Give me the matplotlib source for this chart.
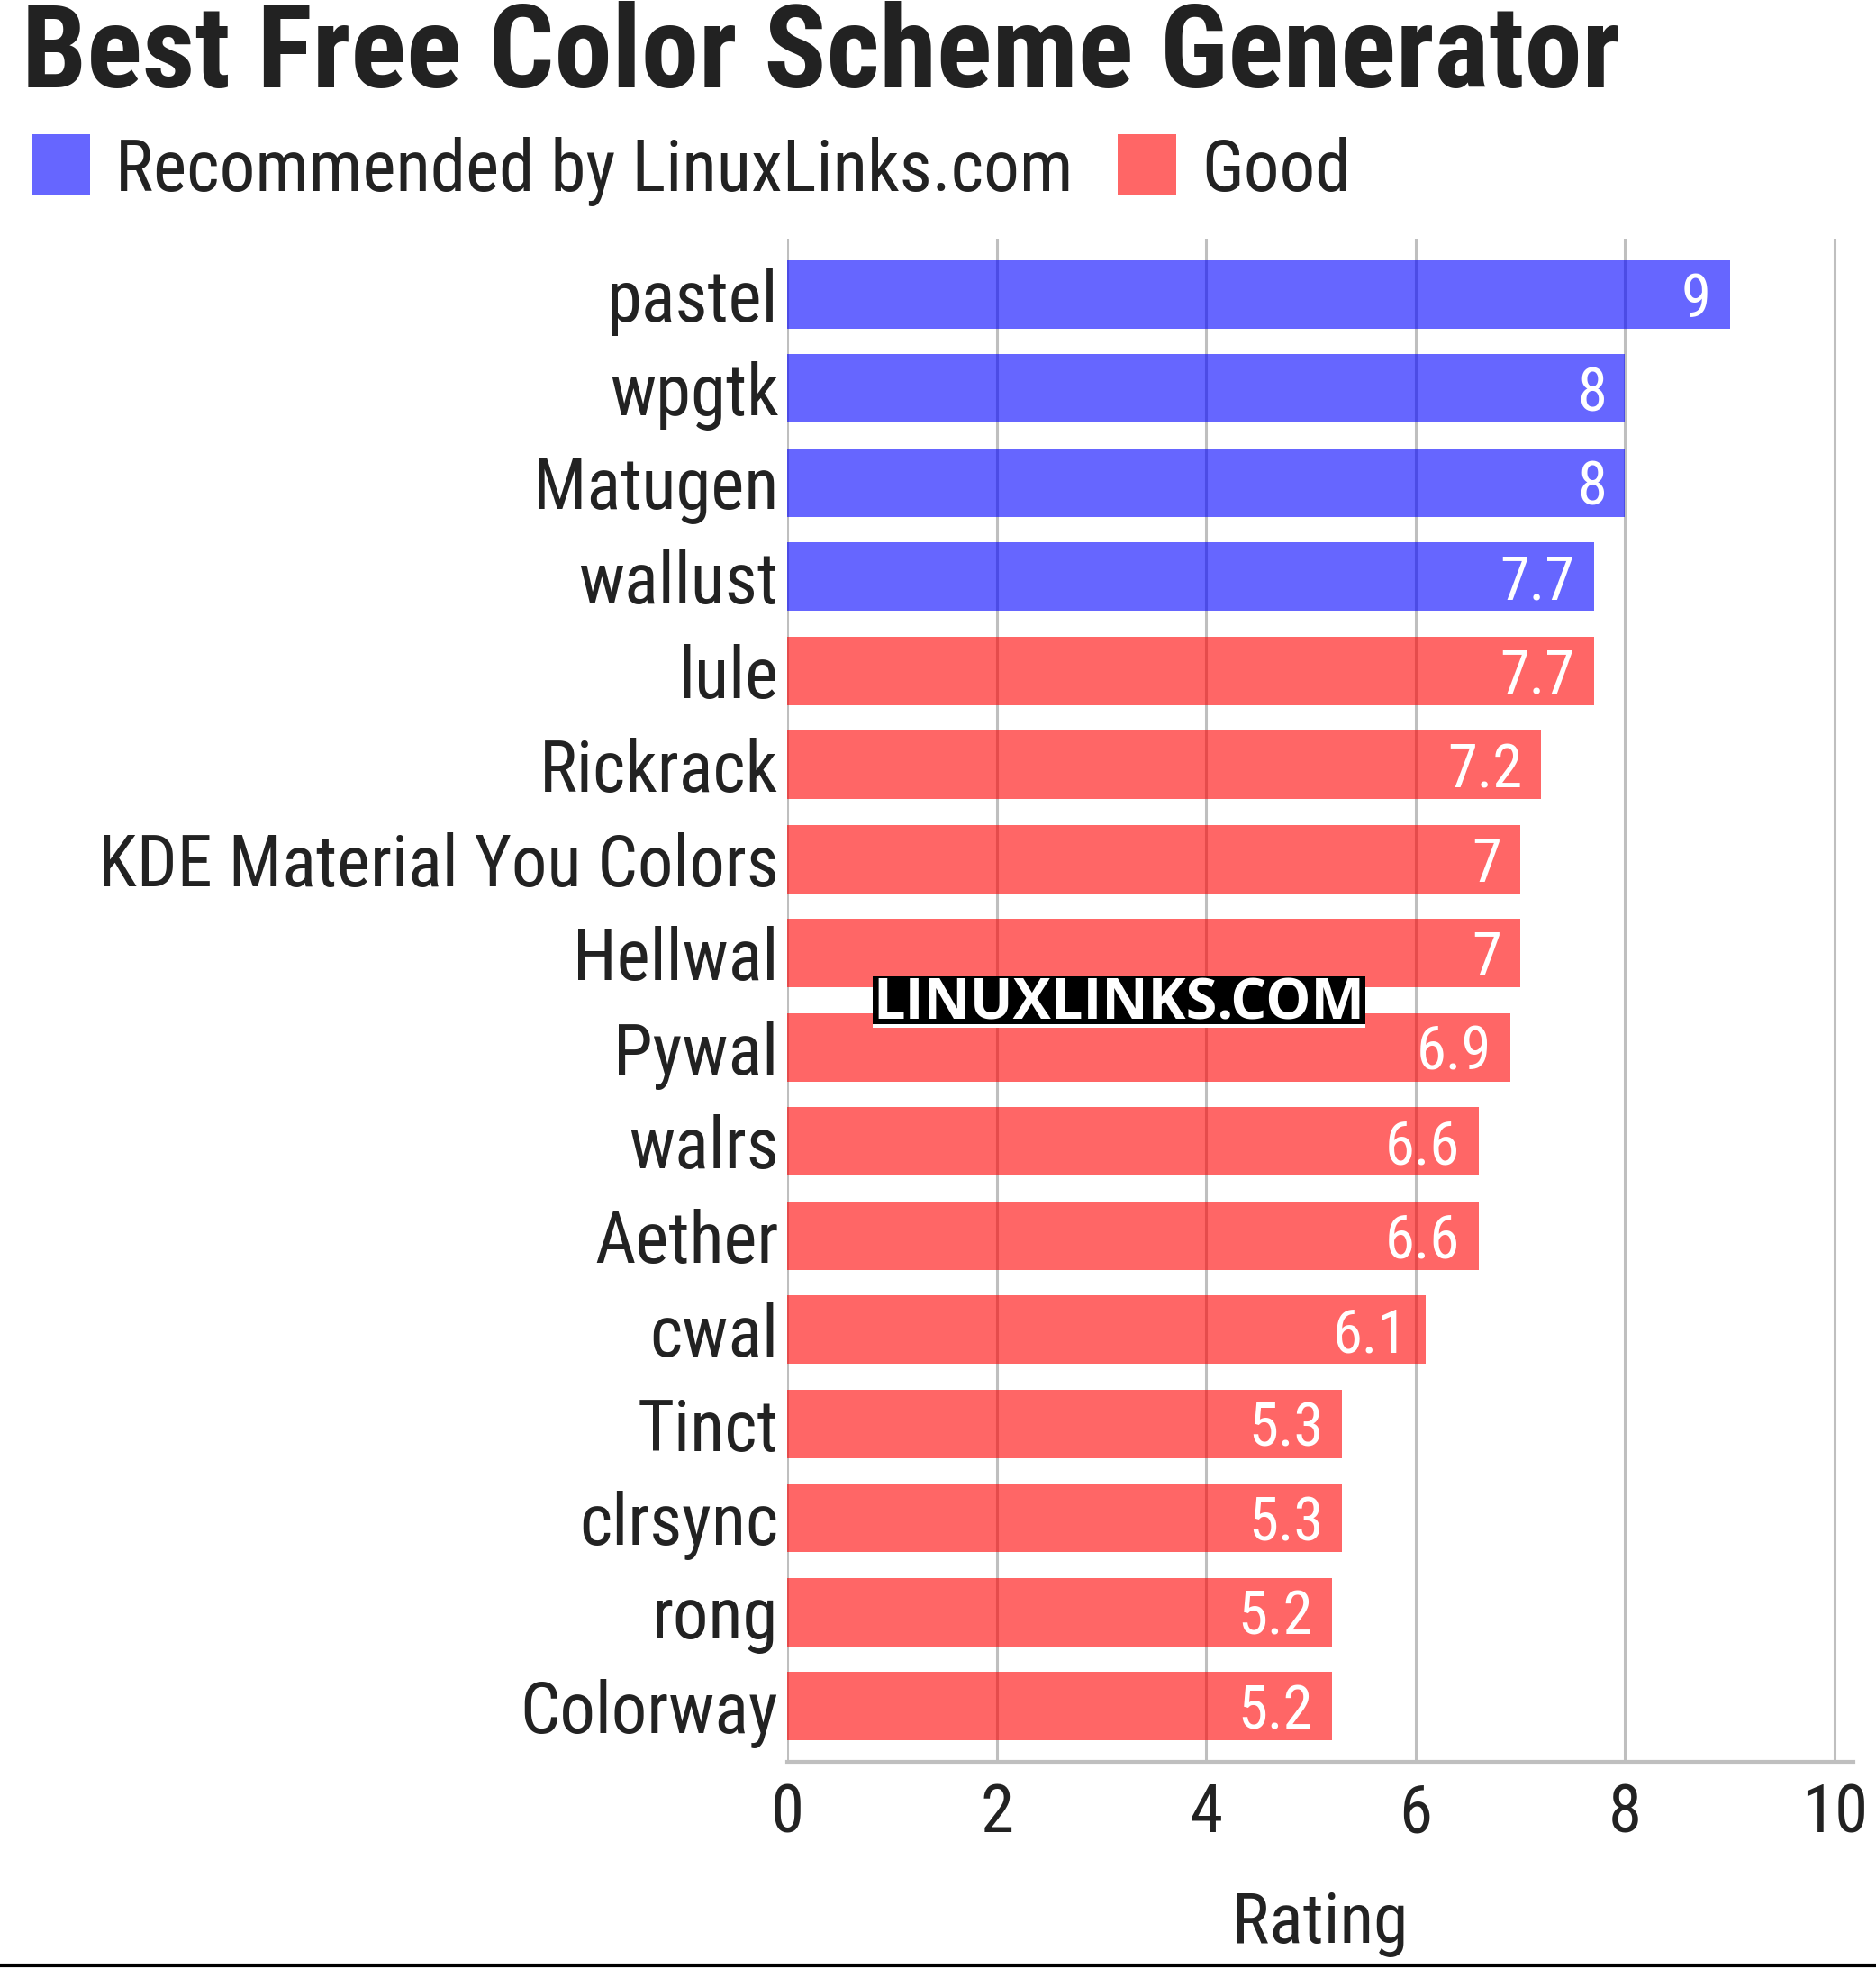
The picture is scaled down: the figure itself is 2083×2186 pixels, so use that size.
import matplotlib
matplotlib.use("Agg")
import matplotlib.pyplot as plt
from matplotlib import font_manager as fm
from matplotlib.patches import Rectangle
from matplotlib.lines import Line2D

# ---- data ----
tools = ["pastel", "wpgtk", "Matugen", "wallust", "lule", "Rickrack",
         "KDE Material You Colors", "Hellwal", "Pywal", "walrs", "Aether",
         "cwal", "Tinct", "clrsync", "rong", "Colorway"]
ratings = [9, 8, 8, 7.7, 7.7, 7.2, 7, 7, 6.9, 6.6, 6.6, 6.1, 5.3, 5.3, 5.2, 5.2]
groups = ["Recommended by LinuxLinks.com"] * 4 + ["Good"] * 12
group_names = ["Recommended by LinuxLinks.com", "Good"]
group_colors = {"Recommended by LinuxLinks.com": (0, 0, 1, 0.6), "Good": (1, 0, 0, 0.6)}
xticks = [0, 2, 4, 6, 8, 10]
title = "Best Free Color Scheme Generator"
xlabel = "Rating"
watermark = "LINUXLINKS.COM"

# ---- fonts ----
def font_file(name):
    for f in fm.fontManager.ttflist:
        if f.fname.endswith(name):
            return f.fname
    return None

def fprop(fname, family, weight, size):
    path = font_file(fname)
    if path:
        return fm.FontProperties(fname=path, size=size)
    return fm.FontProperties(family=family, weight=weight, size=size)

TXT = "#222222"
W, H = 2083, 2186
fig = plt.figure(figsize=(W / 100, H / 100), dpi=100)

ax_left, ax_right = 874 / W, 2058 / W
ax_bottom, ax_top = 1 - 1956 / H, 1 - 265 / H
ax = fig.add_axes([ax_left, ax_bottom, ax_right - ax_left, ax_top - ax_bottom])

ypos = list(range(len(tools)))
colors = [group_colors[g] for g in groups]
bars = ax.barh(ypos, ratings, height=0.73, color=colors, zorder=3, linewidth=0)

ax.set_xlim(0, 10.18)
ax.set_ylim(len(tools) - 1 + 0.59, -0.59)
ax.set_xticks(xticks)
ax.set_xticklabels([str(t) for t in xticks])
ax.set_yticks(ypos)
ax.set_yticklabels(tools)

tick_fp = fprop("RobotoCondensed-Regular.ttf", "Roboto Condensed", "normal", 56.6)
xt_fp = fprop("RobotoCondensed-Regular.ttf", "Roboto Condensed", "normal", 54)
for lab in ax.get_yticklabels():
    lab.set_fontproperties(tick_fp)
    lab.set_color(TXT)
for lab in ax.get_xticklabels():
    lab.set_fontproperties(xt_fp)
    lab.set_color(TXT)
ax.tick_params(axis="y", length=0, pad=7)
ax.tick_params(axis="x", length=0, pad=16)

ax.grid(axis="x", color="#bfbfbf", linewidth=2.2, zorder=1)
ax.grid(axis="y", visible=False)
ax.set_axisbelow(True)
for s in ["top", "right", "left"]:
    ax.spines[s].set_visible(False)
ax.spines["bottom"].set_color("#bfbfbf")
ax.spines["bottom"].set_linewidth(3)
ax.spines["bottom"].set_zorder(4)

lab_fp = fprop("RobotoCondensed-Regular.ttf", "Roboto Condensed", "normal", 56)
ax.set_xlabel(xlabel, fontproperties=lab_fp, color=TXT)
ax.xaxis.set_label_coords(0.5, -0.084)
ax.xaxis.label.set_va("top")

# value labels
val_fp = fprop("RobotoCondensed-Regular.ttf", "Roboto Condensed", "normal", 48)
for rect, v in zip(bars, ratings):
    ax.annotate(f"{v:g}", xy=(rect.get_width(), rect.get_y() + rect.get_height() / 2),
                xytext=(-15, 0), textcoords="offset points", ha="right", va="center_baseline",
                color="white", fontproperties=val_fp, zorder=5)

# title
title_fp = fprop("RobotoCondensed-Bold.ttf", "Roboto Condensed", "bold", 92.5)
fig.text(24 / W, 1 - 97 / H, title, fontproperties=title_fp, color=TXT, ha="left", va="baseline")

# legend
leg_fp = fprop("RobotoCondensed-Regular.ttf", "Roboto Condensed", "normal", 57)
sq = [(35, 1241), (128, 1334)]
for i, g in enumerate(group_names):
    x0 = sq[0][i]
    fig.patches.append(Rectangle((x0 / W, 1 - 216 / H), 65 / W, 67 / H,
                                 transform=fig.transFigure, facecolor=group_colors[g],
                                 edgecolor="none"))
    fig.text(sq[1][i] / W, 1 - 212 / H, g, fontproperties=leg_fp, color=TXT,
             ha="left", va="baseline")

# watermark
wm_fp = fprop("OpenSans-Bold.ttf", "Open Sans", "bold", 45.5)
fig.patches.append(Rectangle((969 / W, 1 - 1137 / H), 547 / W, 53 / H,
                             transform=fig.transFigure, facecolor="black",
                             edgecolor="none", zorder=10))
fig.patches.append(Rectangle((969 / W, 1 - 1141 / H), 547 / W, 4 / H,
                             transform=fig.transFigure, facecolor="white",
                             edgecolor="none", zorder=10))
fig.text(1242 / W, 1 - 1132 / H, watermark, fontproperties=wm_fp, color="white",
         ha="center", va="baseline", zorder=11)

# bottom rule
fig.lines.append(Line2D([0, 1], [1 - 2182 / H, 1 - 2182 / H], transform=fig.transFigure,
                        color="black", linewidth=3))

fig.savefig("out.png", dpi=100)
